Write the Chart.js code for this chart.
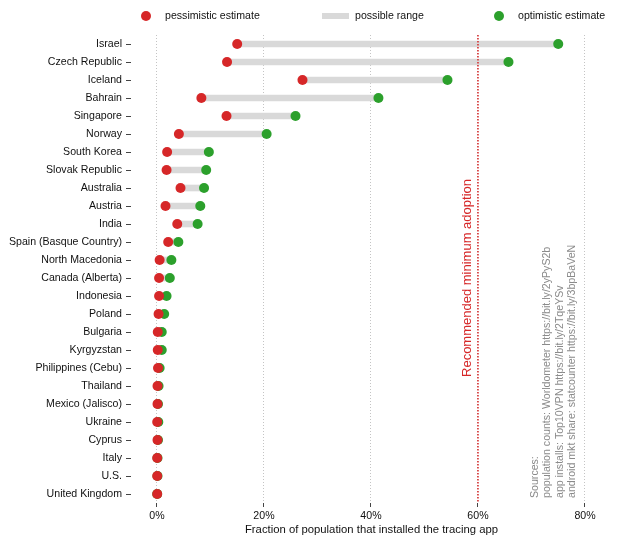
<!DOCTYPE html>
<html><head><meta charset="utf-8">
<script src="https://cdn.jsdelivr.net/npm/chart.js@4"></script>
<style>html,body{margin:0;padding:0;background:#fff}#wrap{width:623px;height:544px;position:relative}</style>
</head><body><div id="wrap"><canvas id="c" width="623" height="544"></canvas></div>
<script>
const countries = ['Israel','Czech Republic','Iceland','Bahrain','Singapore','Norway','South Korea','Slovak Republic','Australia','Austria','India','Spain (Basque Country)','North Macedonia','Canada (Alberta)','Indonesia','Poland','Bulgaria','Kyrgyzstan','Philippines (Cebu)','Thailand','Mexico (Jalisco)','Ukraine','Cyprus','Italy','U.S.','United Kingdom'];
const pessimistic = [15.0,13.1,27.2,8.3,13.0,4.1,1.9,1.8,4.4,1.6,3.8,2.1,0.5,0.4,0.4,0.3,0.15,0.15,0.2,0.1,0.1,0.05,0.1,0.05,0.05,0.05];
const optimistic  = [75.0,65.7,54.3,41.4,25.9,20.5,9.7,9.2,8.8,8.1,7.6,4.0,2.7,2.4,1.8,1.35,0.9,0.9,0.5,0.3,0.2,0.25,0.2,0.1,0.1,0.05];
const xTickValues = [0,20,40,60,80];
const threshold = 60;
const thresholdLabel = 'Recommended minimum adoption';
const legendLabels = ['pessimistic estimate','possible range','optimistic estimate'];
const xTitle = 'Fraction of population that installed the tracing app';
const sourceLines = ['Sources:','population counts: Worldometer https://bit.ly/2yPyS2b','app installs: Top10VPN https://bit.ly/2TqeYSv','android mkt share: statcounter https://bit.ly/3bpBaVeN'];

const RED = '#d62728', GREEN = '#2ca02c', GREY = '#d9d9d9';
const FONT = '"Liberation Sans", Arial, Helvetica, sans-serif';
const FS = 10.6;

const ranges = pessimistic.map((p, i) => [p, optimistic[i]]);

const extras = {
  id: 'extras',
  afterDatasetsDraw(chart) {
    const ctx = chart.ctx, xs = chart.scales.x, a = chart.chartArea;
    const tx = xs.getPixelForValue(threshold);
    ctx.save();
    ctx.strokeStyle = RED; ctx.lineWidth = 1.5; ctx.setLineDash([1.5, 1.5]);
    ctx.beginPath(); ctx.moveTo(tx, a.top); ctx.lineTo(tx, a.bottom); ctx.stroke();
    ctx.setLineDash([]);
    ctx.fillStyle = RED; ctx.font = '13px ' + FONT;
    ctx.textAlign = 'center'; ctx.textBaseline = 'middle';
    ctx.translate(tx - 11, a.top + 243); ctx.rotate(-Math.PI / 2);
    ctx.fillText(thresholdLabel, 0, 0);
    ctx.restore();
    // sources
    ctx.save();
    ctx.fillStyle = '#8a8a8a'; ctx.font = FS + 'px ' + FONT;
    ctx.textAlign = 'left'; ctx.textBaseline = 'middle';
    const sx = xs.getPixelForValue(70.6);
    sourceLines.forEach((t, i) => {
      ctx.save();
      ctx.translate(sx + i * 12.6, a.bottom - 5); ctx.rotate(-Math.PI / 2);
      ctx.fillText(t, 0, 0);
      ctx.restore();
    });
    ctx.restore();
    // legend
    ctx.save();
    ctx.font = FS + 'px ' + FONT;
    ctx.textAlign = 'left'; ctx.textBaseline = 'middle';
    const ly = 16;
    ctx.fillStyle = RED; ctx.beginPath(); ctx.arc(146, ly, 5, 0, Math.PI * 2); ctx.fill();
    ctx.fillStyle = '#111'; ctx.fillText(legendLabels[0], 165, ly);
    ctx.fillStyle = GREY; ctx.fillRect(322, ly - 3, 27, 6);
    ctx.fillStyle = '#111'; ctx.fillText(legendLabels[1], 355, ly);
    ctx.fillStyle = GREEN; ctx.beginPath(); ctx.arc(499, ly, 5, 0, Math.PI * 2); ctx.fill();
    ctx.fillStyle = '#111'; ctx.fillText(legendLabels[2], 518, ly);
    ctx.restore();
  }
};

new Chart(document.getElementById('c'), {
  type: 'bar',
  data: {
    labels: countries,
    datasets: [
      { type: 'line', label: legendLabels[0], data: pessimistic, indexAxis: 'y', showLine: false,
        pointRadius: 5, pointBackgroundColor: RED, pointBorderWidth: 0, pointBorderColor: RED, order: 1 },
      { type: 'line', label: legendLabels[2], data: optimistic, indexAxis: 'y', showLine: false,
        pointRadius: 5, pointBackgroundColor: GREEN, pointBorderWidth: 0, pointBorderColor: GREEN, order: 2 },
      { type: 'bar', label: legendLabels[1], data: ranges, backgroundColor: GREY, borderWidth: 0,
        barThickness: 6, order: 3 }
    ]
  },
  options: {
    indexAxis: 'y',
    responsive: false,
    animation: false,
    events: [],
    layout: { padding: { top: 35, right: 11, bottom: 0, left: 0 } },
    plugins: { legend: { display: false }, tooltip: { enabled: false } },
    scales: {
      x: {
        type: 'linear', min: -4.85, max: 85.05,
        afterBuildTicks: s => { s.ticks = xTickValues.map(v => ({ value: v })); },
        afterFit: s => { s.height = 41; },
        ticks: { callback: v => v + '%', color: '#111', font: { family: FONT, size: FS }, padding: 3, maxRotation: 0 },
        grid: { color: '#c4c4c4', lineWidth: 1, drawTicks: true, tickLength: 4, tickColor: '#444', tickWidth: 1, tickBorderDash: [] },
        border: { display: false, dash: [1, 2] },
        title: { display: true, text: xTitle, color: '#111', font: { family: FONT, size: 11.3 }, padding: { top: 0, bottom: 7 } }
      },
      y: {
        type: 'category',
        afterFit: s => { s.width = 131; },
        ticks: { color: '#111', font: { family: FONT, size: FS }, padding: 4, autoSkip: false },
        grid: { drawOnChartArea: false, drawTicks: true, tickLength: 5, tickColor: '#444', offset: false },
        border: { display: false }
      }
    }
  },
  plugins: [extras]
});
</script>
</body></html>
